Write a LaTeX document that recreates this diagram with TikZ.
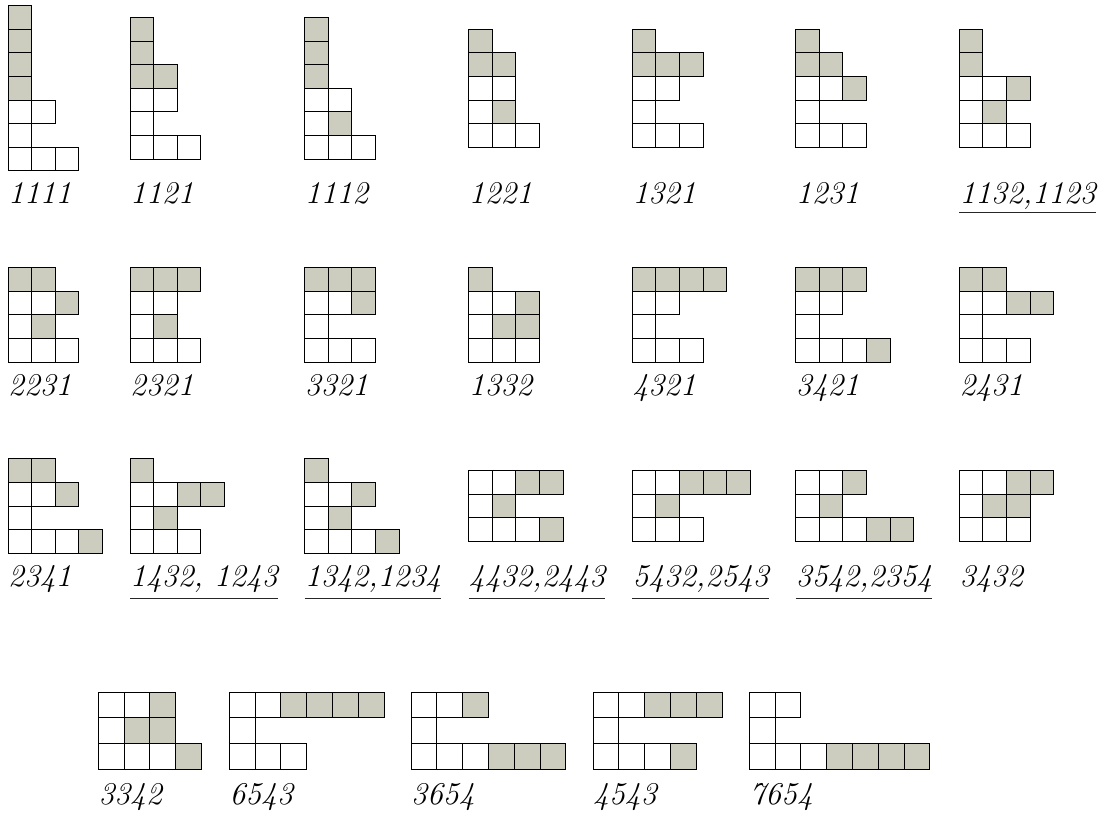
\documentclass[tikz,border=0pt]{standalone}
\usepackage{tikz}
\definecolor{G}{RGB}{204,204,191}
\definecolor{W}{RGB}{255,255,255}
\newcommand\ydiag[5]{%
  \foreach \rowlist [count=\j from 0] in {#5}{%
    \foreach \f [count=\i from 0] in \rowlist {%
      \draw[cell, fill=\f] ({#1+\i*#3},{#2-#4*#3/2+\j*#3}) rectangle ++(#3,#3);
    }}}
\begin{document}
\begin{tikzpicture}[x=1pt,y=-1pt,
  cell/.style={draw=black, line width=0.9pt},
  lbl/.style={anchor=base west, inner sep=0pt, font=\fontsize{31.7}{38}\selectfont\itshape},
  uline/.style={draw=black!85, line width=1pt}]
\useasboundingbox (0,0) rectangle (1105,815);
% Row 1
\ydiag{8}{88.2}{23.6}{7}{{G},{G},{G},{G},{W,W},{W},{W,W,W}}
\ydiag{130}{88.2}{23.6}{6}{{G},{G},{G,G},{W,W},{W},{W,W,W}}
\ydiag{304.7}{88.2}{23.6}{6}{{G},{G},{G},{W,W},{W,G},{W,W,W}}
\ydiag{468.7}{88.2}{23.6}{5}{{G},{G,G},{W,W},{W,G},{W,W,W}}
\ydiag{632.3}{88.2}{23.6}{5}{{G},{G,G,G},{W,W},{W},{W,W,W}}
\ydiag{795.7}{88.2}{23.6}{5}{{G},{G,G},{W,W,G},{W},{W,W,W}}
\ydiag{959.3}{88.2}{23.6}{5}{{G},{G},{W,W,G},{W,G},{W,W,W}}
% Row 2
\ydiag{8}{314.8}{23.6}{4}{{G,G},{W,W,G},{W,G},{W,W,W}}
\ydiag{130}{314.8}{23.6}{4}{{G,G,G},{W,W},{W,G},{W,W,W}}
\ydiag{304.7}{314.8}{23.6}{4}{{G,G,G},{W,W,G},{W},{W,W,W}}
\ydiag{468.7}{314.8}{23.6}{4}{{G},{W,W,G},{W,G,G},{W,W,W}}
\ydiag{632.3}{314.8}{23.6}{4}{{G,G,G,G},{W,W},{W},{W,W,W}}
\ydiag{795.7}{314.8}{23.6}{4}{{G,G,G},{W,W},{W},{W,W,W,G}}
\ydiag{959.3}{314.8}{23.6}{4}{{G,G},{W,W,G,G},{W},{W,W,W}}
% Row 3
\ydiag{8}{506.1}{23.6}{4}{{G,G},{W,W,G},{W},{W,W,W,G}}
\ydiag{130}{506.1}{23.6}{4}{{G},{W,W,G,G},{W,G},{W,W,W}}
\ydiag{304.7}{506.1}{23.6}{4}{{G},{W,W,G},{W,G},{W,W,W,G}}
\ydiag{468.7}{506.1}{23.6}{3}{{W,W,G,G},{W,G},{W,W,W,G}}
\ydiag{632.3}{506.1}{23.6}{3}{{W,W,G,G,G},{W,G},{W,W,W}}
\ydiag{795.7}{506.1}{23.6}{3}{{W,W,G},{W,G},{W,W,W,G,G}}
\ydiag{959.3}{506.1}{23.6}{3}{{W,W,G,G},{W,G,G},{W,W,W}}
% Row 4
\ydiag{98.3}{730.7}{25.8}{3}{{W,W,G},{W,G,G},{W,W,W,G}}
\ydiag{229.3}{730.7}{25.8}{3}{{W,W,G,G,G,G},{W},{W,W,W}}
\ydiag{411}{730.7}{25.8}{3}{{W,W,G},{W},{W,W,W,G,G,G}}
\ydiag{593}{730.7}{25.8}{3}{{W,W,G,G,G},{W},{W,W,W,G}}
\ydiag{749.3}{730.7}{25.8}{3}{{W,W},{W},{W,W,W,G,G,G,G}}
% Labels row 1
\node[lbl] (l1) at (8,203.5) {1111};
\node[lbl] (l2) at (130,203.5) {1121};
\node[lbl] (l3) at (304.7,203.5) {1112};
\node[lbl] (l4) at (468.7,203.5) {1221};
\node[lbl] (l5) at (632.3,203.5) {1321};
\node[lbl] (l6) at (795.7,203.5) {1231};
\node[lbl] (l7) at (959.3,203.5) {1132,1123};
% Labels row 2
\node[lbl] (l8) at (8,395.7) {2231};
\node[lbl] (l9) at (130,395.7) {2321};
\node[lbl] (l10) at (304.7,395.7) {3321};
\node[lbl] (l11) at (468.7,395.7) {1332};
\node[lbl] (l12) at (632.3,395.7) {4321};
\node[lbl] (l13) at (795.7,395.7) {3421};
\node[lbl] (l14) at (959.3,395.7) {2431};
% Labels row 3
\node[lbl] (l15) at (8,586.5) {2341};
\node[lbl] (l16) at (130,586.5) {1432, 1243};
\node[lbl] (l17) at (304.7,586.5) {1342,1234};
\node[lbl] (l18) at (468.7,586.5) {4432,2443};
\node[lbl] (l19) at (632.3,586.5) {5432,2543};
\node[lbl] (l20) at (795.7,586.5) {3542,2354};
\node[lbl] (l21) at (959.3,586.5) {3432};
% Labels row 4
\node[lbl] (l22) at (98.3,804.5) {3342};
\node[lbl] (l23) at (229.3,804.5) {6543};
\node[lbl] (l24) at (411,804.5) {3654};
\node[lbl] (l25) at (593,804.5) {4543};
\node[lbl] (l26) at (749.3,804.5) {7654};
% Underlines
\draw[uline] (l7.west |- 0,212.7) -- (l7.east |- 0,212.7);
\foreach \n in {l16,l17,l18,l19,l20}
  \draw[uline] (\n.west |- 0,598.3) -- (\n.east |- 0,598.3);
\end{tikzpicture}
\end{document}
